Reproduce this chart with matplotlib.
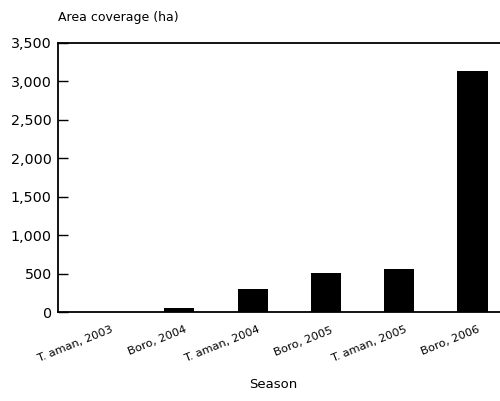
import matplotlib.pyplot as plt
import matplotlib.ticker as mticker
import matplotlib.transforms as mtransforms

seasons = ["T. aman, 2003", "Boro, 2004", "T. aman, 2004",
           "Boro, 2005", "T. aman, 2005", "Boro, 2006"]
area_ha = [0, 60, 300, 510, 560, 3130]

plt.rcParams['font.family'] = ['DejaVu Sans']

fig = plt.figure(figsize=(5, 4.01), dpi=100)
# axes: left spine at x=58, top at y=43, bottom at y=312 (pixels)
ax = fig.add_axes([58 / 500, 1 - 312.3 / 401, 1 - 58 / 500, (312.3 - 43) / 401])

x = range(len(seasons))
ax.bar(x, area_ha, width=0.41, color='black')

ax.set_xlim(-0.655, 5.375)
ax.set_ylim(0, 3500)
ax.yaxis.set_major_locator(mticker.MultipleLocator(500))
ax.yaxis.set_major_formatter(mticker.FuncFormatter(lambda v, p: f"{int(v):,}"))

ax.spines['right'].set_visible(False)
for s in ['left', 'top', 'bottom']:
    ax.spines[s].set_linewidth(1.3)

ax.tick_params(axis='y', direction='in', length=7, width=1, labelsize=10.3, pad=4.5)
ax.tick_params(axis='x', length=0, labelsize=8.2, pad=9)
ax.set_xticks(list(x))
ax.set_xticklabels(seasons, rotation=22, ha='right', rotation_mode='anchor')
shift = mtransforms.ScaledTranslation(0.05, 0, fig.dpi_scale_trans)
for lbl in ax.get_xticklabels():
    lbl.set_transform(lbl.get_transform() + shift)

fig.text(58 / 500, 1 - 17 / 401, "Area coverage (ha)", fontsize=9, va='center', ha='left')
fig.text(273 / 500, 1 - 384 / 401, "Season", fontsize=9.5, va='center', ha='center')

fig.savefig("out.png", dpi=100)
